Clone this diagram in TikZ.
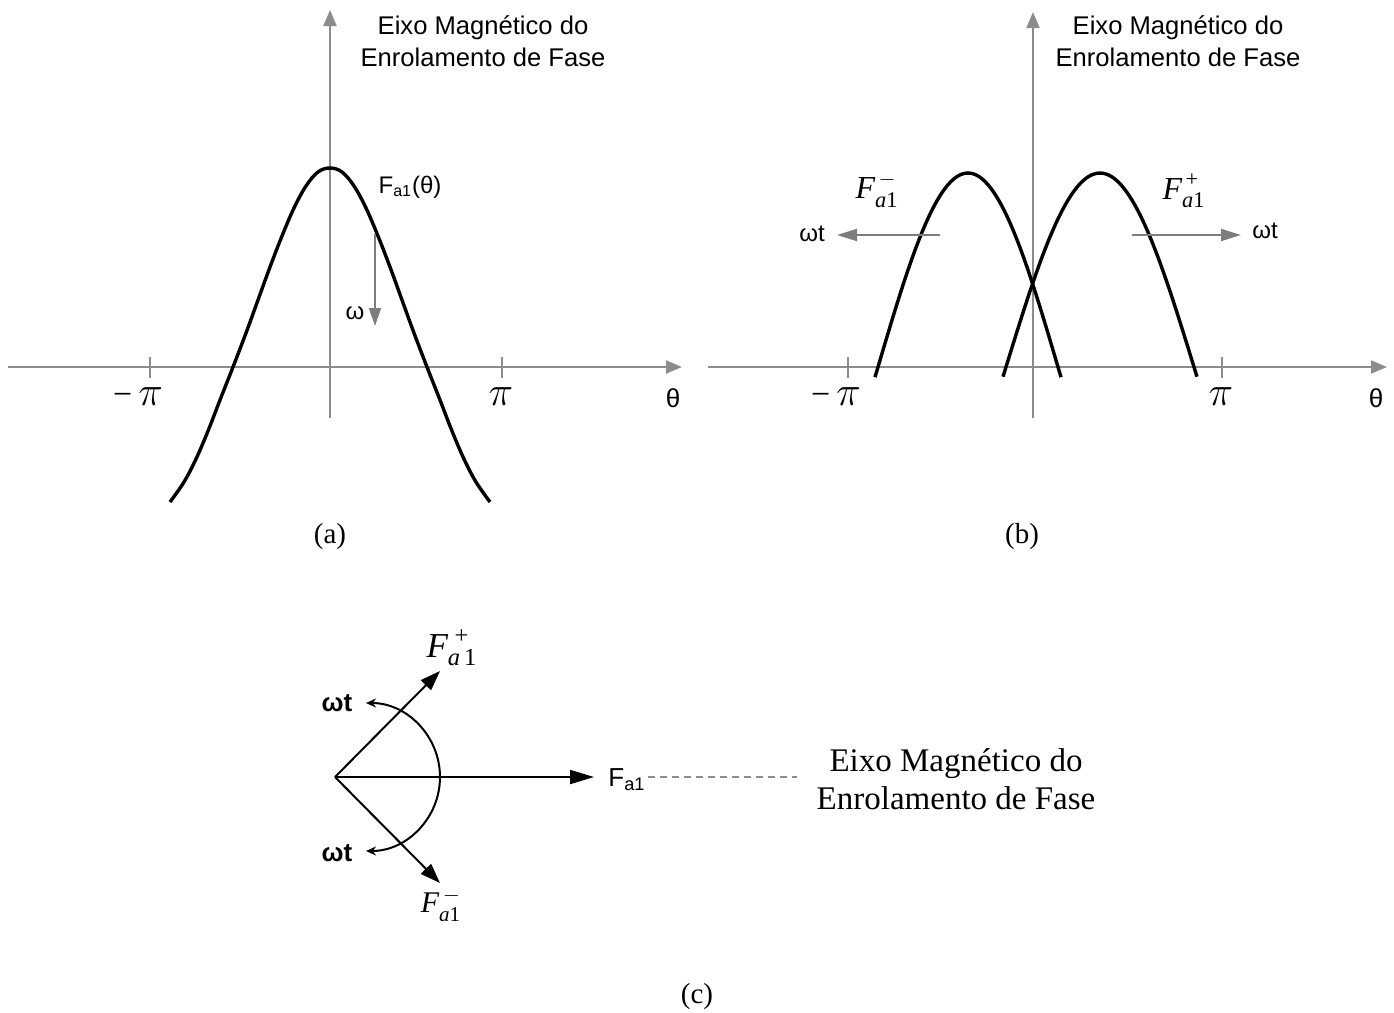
\documentclass[tikz,border=0pt]{standalone}
\usepackage{amsmath}
\usepackage{fontspec}
\setmainfont{Liberation Serif}
\setsansfont{Liberation Sans}
\usetikzlibrary{arrows.meta, positioning}
\definecolor{AxisGray}{RGB}{140, 140, 140}
\definecolor{ArrowGray}{RGB}{125, 125, 125}
\newcommand{\minuspi}{{\fontsize{17}{20}\selectfont −}\hspace{3pt}{\fontsize{22}{24}\selectfont$\pi$}}

\begin{document}
\begin{tikzpicture}[x=0.5pt, y=-0.5pt,
	axis/.style={AxisGray, line width=1pt, -{Triangle[length=8pt, width=6.5pt]}},
	tickmark/.style={AxisGray, line width=1pt},
	wave/.style={black, line width=1.7pt, line join=round},
	move/.style={ArrowGray, line width=0.9pt, -{Triangle[length=10pt, width=6pt]}},
	vec/.style={black, line width=1pt, -{Triangle[length=12pt, width=7pt]}},
	axlabel/.style={font=\sffamily\fontsize{12.8}{16}\selectfont, align=center},
	sanslbl/.style={font=\sffamily\fontsize{12}{14}\selectfont},
	pilbl/.style={font=\fontsize{22}{24}\selectfont},
	caption/.style={font=\fontsize{14.5}{17}\selectfont}]

\useasboundingbox (0,0) rectangle (1394,1013);

% (a)
\draw[axis] (330,418) -- (330,10);
\draw[axis] (8,367) -- (682,367);
\foreach \x in {150,502}
	\draw[tickmark] (\x,357) -- (\x,378);
\node[axlabel] (eixoA) at (483,41) {Eixo Magnético do\\Enrolamento de Fase};
\node[pilbl] (mpiA) at (138,397) {\minuspi};
\node[pilbl] (piA) at (501,397) {$\pi$};
\node[sanslbl, font=\sffamily\fontsize{13}{15}\selectfont] (thA) at (673,398) {θ};
\draw[wave, shift={(330,0)}] plot[smooth, tension=0.6] coordinates {(-160,502) (-146,482) (-134,459)
	(-122,431) (-110,400) (-97,367) (-84,333) (-72,300) (-60,267) (-48,236) (-36,208) (-24,186)
	(-12,172) (0,168) (12,172) (24,186) (36,208) (48,236) (60,267) (72,300) (84,333) (97,367)
	(110,400) (122,431) (134,459) (146,482) (160,502)};
\node[sanslbl] (FaA) at (410,187) {F\textsubscript{a1}(θ)};
\coordinate (wTop) at (375,234);
\coordinate (wBot) at (375,326);
\draw[move, -{Triangle[length=9pt, width=6pt]}] (wTop) -- (wBot);
\node[sanslbl] (wA) at (355,313) {ω};
\node[caption] (capA) at (330,537) {(a)};

% (b)
\draw[axis] (1033,418) -- (1033,12);
\draw[axis] (708,367) -- (1387,367);
\foreach \x in {848,1222}
	\draw[tickmark] (\x,357) -- (\x,378);
\node[axlabel] (eixoB) at (1178,41) {Eixo Magnético do\\Enrolamento de Fase};
\node[pilbl] (mpiB) at (836,397) {\minuspi};
\node[pilbl] (piB) at (1221,397) {$\pi$};
\node[sanslbl, font=\sffamily\fontsize{13}{15}\selectfont] (thB) at (1376,398) {θ};
\draw[wave] plot[domain=-93:93, samples=60] ({968+\x}, {367-194*cos(\x)});
\draw[wave] plot[domain=-97:97, samples=60] ({1100+\x}, {367-194*cos(\x*90/94)});
\node[font=\fontsize{16}{18}\selectfont] (FmB) at (877,190) {$\textit{F}^{\,-}_{\textit{a}\text{1}}$};
\node[font=\fontsize{16}{18}\selectfont] (FpB) at (1184,191) {$\textit{F}^{\,\text{+}}_{\textit{a}\text{1}}$};
\coordinate (mTail) at (940,235);
\coordinate (mTip) at (837,235);
\coordinate (pTail) at (1132,235);
\coordinate (pTip) at (1241,235);
\draw[move] (mTail) -- (mTip);
\draw[move] (pTail) -- (pTip);
\node[sanslbl] (wtmB) at (812,234) {ωt};
\node[sanslbl] (wtpB) at (1265,231) {ωt};
\node[caption] (capB) at (1022,537) {(b)};

% (c)
\coordinate (O) at (335,777);
\coordinate (Fend) at (594,777);
\coordinate (Fplus) at (440,671);
\coordinate (Fminus) at (440,883);
\draw[vec] (O) -- (Fend);
\draw[vec, -{Triangle[length=10pt, width=7pt]}] (O) -- (Fplus);
\draw[vec, -{Triangle[length=10pt, width=7pt]}] (O) -- (Fminus);
\coordinate (arcTop) at (366,703);
\draw[black, line width=1pt, {Stealth[length=5pt, width=4.5pt]}-{Stealth[length=5pt, width=4.5pt]}]
	(arcTop) arc[start angle=-90, end angle=90, radius=74];
\node[font=\sffamily\bfseries\fontsize{13}{15}\selectfont] (wtTop) at (337,703) {ωt};
\node[font=\sffamily\bfseries\fontsize{13}{15}\selectfont] (wtBot) at (337,853) {ωt};
\node[font=\fontsize{17.5}{20}\selectfont] (FpC) at (452,648) {$\textit{F}^{\;\text{+}}_{\textit{a}\,\text{1}}$};
\node[font=\fontsize{15}{18}\selectfont] (FmC) at (441,905) {$\textit{F}^{\,-}_{\textit{a}\text{1}}$};
\node[font=\sffamily\fontsize{13}{15}\selectfont, inner sep=1pt] (FaC) at (627,780) {F\textsubscript{a1}};
\coordinate (dashEnd) at (797,777);
\draw[AxisGray, line width=0.7pt, dash pattern=on 3.5pt off 2.5pt] (FaC.east |- O) -- (dashEnd);
\node[font=\fontsize{16.5}{19}\selectfont, align=center] (eixoC) at (956,779) {Eixo Magnético do\\Enrolamento de Fase};
\node[caption] (capC) at (697,997) {(c)};
\end{tikzpicture}
\end{document}
